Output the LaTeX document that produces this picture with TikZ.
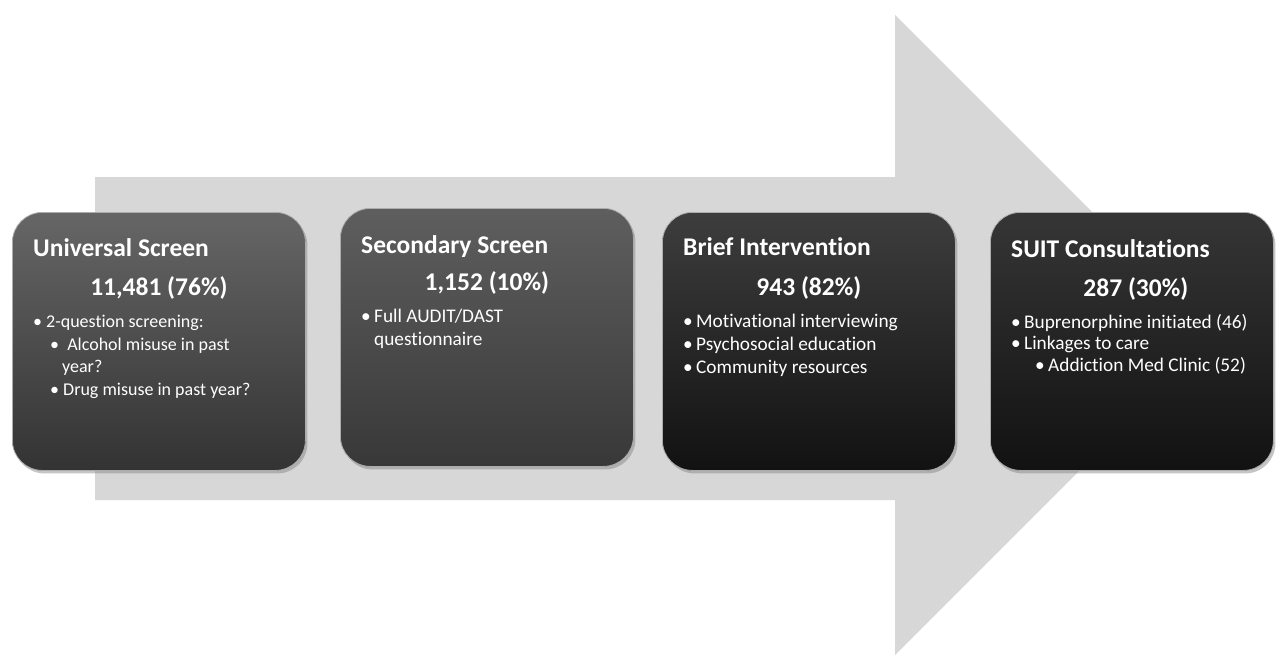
\documentclass[tikz,border=0pt]{standalone}
\usepackage{fontspec}
\setmainfont{Carlito}[Ligatures=NoCommon]
\usepackage{tikz}
\usetikzlibrary{shadows}
\usepackage{xcolor}
\definecolor{arrowgray}{HTML}{D7D7D7}
\tikzstyle{stage} = [draw=gray!65, line width=0.8pt, rounded corners=30pt, minimum width=293pt, minimum height=258pt, anchor=north west, drop shadow={shadow xshift=2pt, shadow yshift=-3pt, opacity=0.45}]
\tikzstyle{title} = [text=white, font=\fontsize{25.5}{30}\selectfont\bfseries, inner sep=0pt, anchor=base west]
\tikzstyle{count} = [title, anchor=base]
\tikzstyle{items} = [text=white, font=\fontsize{19.3}{23}\selectfont, inner sep=0pt, align=left, anchor=north west]
\newcommand{\bul}[1]{\makebox[13pt][l]{•}#1}

\begin{document}
\begin{tikzpicture}[x=1pt, y=-1pt]
    \useasboundingbox (0,0) rectangle (1276,657);
    \fill [white] (0,0) rectangle (1276,657);
    \fill [arrowgray] (95,177) -- (895,177) -- (895,15) -- (1215,335) -- (895,655) -- (895,500) -- (95,500) -- cycle;

    \node [stage, top color=black!60, bottom color=black!80] (s1) at (12,212) {};
    \node [stage, top color=black!63, bottom color=black!78] (s2) at (340,208) {};
    \node [stage, top color=black!76, bottom color=black!93] (s3) at (662,212) {};
    \node [stage, top color=black!79, bottom color=black!93, minimum width=283pt] (s4) at (990,212) {};

    \node [title] (t1) at ([xshift=21pt,yshift=-44pt]s1.north west) {Universal Screen};
    \node [count] (n1) at ([yshift=-83pt]s1.north) {11,481 (76\%)};
    \node [items, font=\fontsize{18}{22.5}\selectfont] (l1) at ([xshift=21pt,yshift=-103pt]s1.north west) {\bul{2-question screening:}\\
        \hspace*{17pt}\bul{\ Alcohol misuse in past}\\
        \hspace*{29pt}year?\\
        \hspace*{17pt}\bul{Drug misuse in past year?}};

    \node [title] (t2) at ([xshift=21pt,yshift=-45pt]s2.north west) {Secondary Screen};
    \node [count] (n2) at ([yshift=-82pt]s2.north) {1,152 (10\%)};
    \node [items] (l2) at ([xshift=21pt,yshift=-101pt]s2.north west) {\bul{Full AUDIT/DAST}\\
        \hspace*{13pt}questionnaire};

    \node [title] (t3) at ([xshift=21pt,yshift=-43pt]s3.north west) {Brief Intervention};
    \node [count] (n3) at ([yshift=-83pt]s3.north) {943 (82\%)};
    \node [items] (l3) at ([xshift=21pt,yshift=-102pt]s3.north west) {\bul{Motivational interviewing}\\
        \bul{Psychosocial education}\\
        \bul{Community resources}};

    \node [title] (t4) at ([xshift=21pt,yshift=-45pt]s4.north west) {SUIT Consultations};
    \node [count] (n4) at ([xshift=4pt,yshift=-84pt]s4.north) {287 (30\%)};
    \node [items, font=\fontsize{19.3}{21.5}\selectfont] (l4) at ([xshift=21pt,yshift=-102pt]s4.north west) {\bul{Buprenorphine initiated (46)}\\
        \bul{Linkages to care}\\
        \hspace*{24pt}\bul{Addiction Med Clinic (52)}};
\end{tikzpicture}
\end{document}
